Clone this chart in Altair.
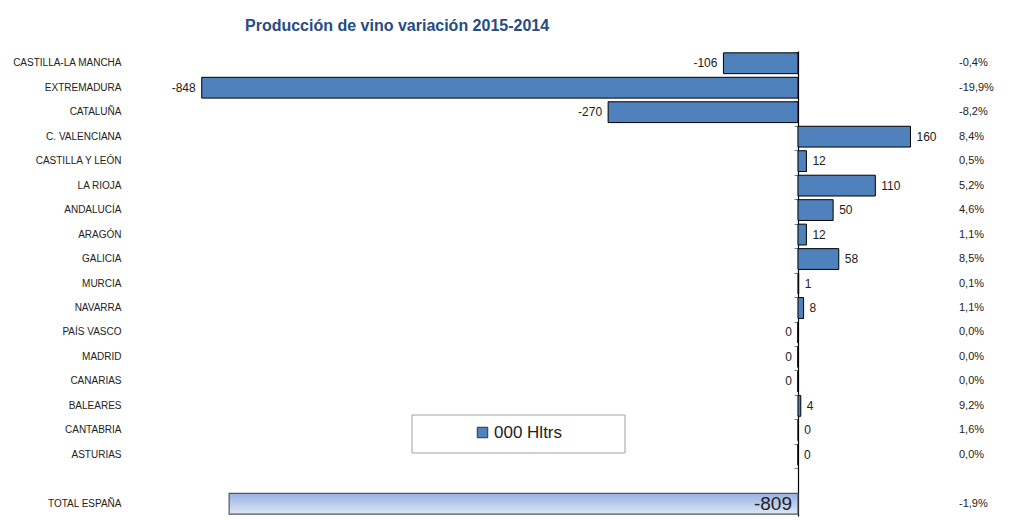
import altair as alt
import pandas as pd

regions = ["CASTILLA-LA MANCHA", "EXTREMADURA", "CATALUÑA", "C. VALENCIANA",
           "CASTILLA Y LEÓN", "LA RIOJA", "ANDALUCÍA", "ARAGÓN", "GALICIA",
           "MURCIA", "NAVARRA", "PAÍS VASCO", "MADRID", "CANARIAS", "BALEARES",
           "CANTABRIA", "ASTURIAS"]
values = [-106, -848, -270, 160, 12, 110, 50, 12, 58, 1, 8, -0.2, -0.2, -0.2, 4, 0.4, 0.0]
pct = [-0.4, -19.9, -8.2, 8.4, 0.5, 5.2, 4.6, 1.1, 8.5, 0.1, 1.1, 0.0, 0.0, 0.0, 9.2, 1.6, 0.0]

total_label = "TOTAL ESPAÑA"
total_value = -809
total_pct = -1.9

blank = " "
order = regions + [blank, total_label]

FONT = "Liberation Sans"
BLUE = "#4F81BD"


def fmt_pct(p):
    return f"{p:.1f}".replace(".", ",") + "%"


df = pd.DataFrame({
    "region": regions,
    "value": values,
    "label": [str(int(round(v))) for v in values],
    "side": ["neg" if v < 0 else "pos" for v in values],
    "pct": [fmt_pct(p) for p in pct],
    "serie": ["000 Hltrs"] * len(regions),
})
tot = pd.DataFrame({
    "region": [total_label],
    "value": [total_value],
    "label": [str(total_value)],
    "pct": [fmt_pct(total_pct)],
})
pct_df = pd.concat([df[["region", "pct"]], tot[["region", "pct"]]])

xscale = alt.Scale(domain=[-950, 202], nice=False, zero=False)
yenc = alt.Y(
    "region:N",
    sort=order,
    scale=alt.Scale(domain=order, paddingInner=0.15, paddingOuter=0.075),
    axis=alt.Axis(
        title=None, offset=-668, domain=True, domainColor="#000000", domainWidth=1.2,
        ticks=True, tickSize=4, tickColor="#808080", bandPosition=0,
        labelPadding=673, labelFont=FONT, labelFontSize=10,
        labelColor="#222222", labelExpr="datum.label == ' ' ? '' : datum.label",
    ),
)

bars = alt.Chart(df).mark_bar(stroke="#000000", strokeWidth=1).encode(
    x=alt.X("value:Q", scale=xscale, axis=None),
    y=yenc,
    color=alt.Color(
        "serie:N", scale=alt.Scale(range=[BLUE]),
        legend=alt.Legend(
            title=None, orient="none", legendX=344, legendY=373,
            symbolType="square", symbolSize=110, symbolStrokeColor="#333333",
            symbolStrokeWidth=1, labelFont=FONT, labelFontSize=17,
            labelColor="#222222", labelOffset=3,
        ),
    ),
)

pos_labels = alt.Chart(df).transform_filter("datum.side == 'pos'").mark_text(
    align="left", baseline="middle", dx=6, font=FONT, fontSize=12, color="#222222"
).encode(x=alt.X("value:Q", scale=xscale), y=alt.Y("region:N", sort=order), text="label:N")

neg_labels = alt.Chart(df).transform_filter("datum.side == 'neg'").mark_text(
    align="right", baseline="middle", dx=-6, font=FONT, fontSize=12, color="#222222"
).encode(x=alt.X("value:Q", scale=xscale), y=alt.Y("region:N", sort=order), text="label:N")

grad = alt.Gradient(
    gradient="linear",
    stops=[alt.GradientStop(color="#98B1E2", offset=0),
           alt.GradientStop(color="#DDE7F6", offset=1)],
    x1=0, x2=0, y1=0, y2=1,
)
total_bar = alt.Chart(tot).mark_bar(color=grad, stroke="#555555", strokeWidth=1.2).encode(
    x=alt.X("value:Q", scale=xscale), x2=alt.datum(0), y=alt.Y("region:N", sort=order)
)
total_text = alt.Chart(tot).mark_text(
    align="right", baseline="middle", dx=-6, font=FONT, fontSize=19, color="#222222"
).encode(x=alt.datum(0, scale=xscale), y=alt.Y("region:N", sort=order), text="label:N")

pct_text = alt.Chart(pct_df).mark_text(
    align="left", baseline="middle", font=FONT, fontSize=11, color="#222222"
).encode(x=alt.value(829), y=alt.Y("region:N", sort=order), text="pct:N")

legend_box = alt.Chart(pd.DataFrame({"k": [0]})).mark_rect(
    fill="#FFFFFF", stroke="#A0A0A0", strokeWidth=1
).encode(x=alt.value(282), x2=alt.value(495), y=alt.value(364), y2=alt.value(402))

chart = alt.layer(
    legend_box, bars, total_bar, pos_labels, neg_labels, total_text, pct_text
).properties(
    width=810, height=465,
    background="#FFFFFF",
    autosize=alt.AutoSizeParams(type="none"),
    padding={"left": 130, "top": 51, "right": 71, "bottom": 4},
    title=alt.TitleParams(
        "Producción de vino variación 2015-2014", anchor="start", frame="group",
        dx=115, offset=17, font=FONT, fontSize=16, fontWeight="bold", color="#264B85",
    ),
).configure_view(strokeWidth=0, stroke="transparent")

chart.save("out.html", embed_options={"renderer": "svg", "actions": False})
